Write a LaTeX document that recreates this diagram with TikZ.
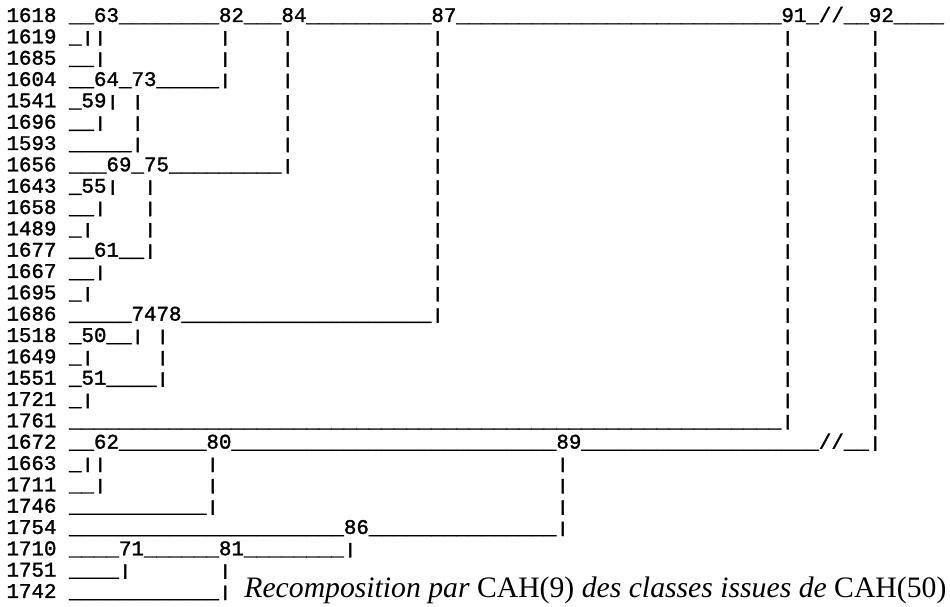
\documentclass[tikz,border=0pt]{standalone}
\usepackage{fontspec}
\usepackage{graphicx}
\usetikzlibrary{positioning}

\newfontfamily\dendfont{Liberation Mono}[FakeBold=1.5]
\newfontfamily\capfont{Liberation Serif}

\newlength\colw
\setlength\colw{12.5pt}
\newcommand\us[1]{\foreach\k in {1,...,#1}{\_}}
\newcommand\gp[1]{\hspace*{#1\colw}}
\newcommand\vb{\raisebox{1pt}{\scalebox{1}[0.74]{|}}}

\begin{document}
\begin{tikzpicture}[
    x=1pt, y=-1pt,
    dendrow/.style={anchor=base west, inner sep=0pt, font=\dendfont\fontsize{20.83}{21.33}\selectfont},
    nextrow/.style={below=21.33pt of #1.base west, anchor=base west},
    captext/.style={inner sep=0pt, font=\capfont\itshape\fontsize{29.7}{30}\selectfont}
]
    \useasboundingbox (0,0) rectangle (950,607);

    % First group (up to 92)
    \node[dendrow] (r1618) at (6.3,22) {1618\gp{1}\us{2}63\us{8}82\us{3}84\us{10}87\us{26}91\us{1}//\us{2}92\us{4}};
    \node[dendrow, nextrow=r1618] (r1619) {1619\gp{1}\us{1}\vb\vb\gp{9}\vb\gp{4}\vb\gp{11}\vb\gp{27}\vb\gp{6}\vb};
    \node[dendrow, nextrow=r1619] (r1685) {1685\gp{1}\us{2}\vb\gp{9}\vb\gp{4}\vb\gp{11}\vb\gp{27}\vb\gp{6}\vb};
    \node[dendrow, nextrow=r1685] (r1604) {1604\gp{1}\us{2}64\us{1}73\us{5}\vb\gp{4}\vb\gp{11}\vb\gp{27}\vb\gp{6}\vb};
    \node[dendrow, nextrow=r1604] (r1541) {1541\gp{1}\us{1}59\vb\gp{1}\vb\gp{11}\vb\gp{11}\vb\gp{27}\vb\gp{6}\vb};
    \node[dendrow, nextrow=r1541] (r1696) {1696\gp{1}\us{2}\vb\gp{2}\vb\gp{11}\vb\gp{11}\vb\gp{27}\vb\gp{6}\vb};
    \node[dendrow, nextrow=r1696] (r1593) {1593\gp{1}\us{5}\vb\gp{11}\vb\gp{11}\vb\gp{27}\vb\gp{6}\vb};
    \node[dendrow, nextrow=r1593] (r1656) {1656\gp{1}\us{3}69\us{1}75\us{9}\vb\gp{11}\vb\gp{27}\vb\gp{6}\vb};
    \node[dendrow, nextrow=r1656] (r1643) {1643\gp{1}\us{1}55\vb\gp{2}\vb\gp{22}\vb\gp{27}\vb\gp{6}\vb};
    \node[dendrow, nextrow=r1643] (r1658) {1658\gp{1}\us{2}\vb\gp{3}\vb\gp{22}\vb\gp{27}\vb\gp{6}\vb};
    \node[dendrow, nextrow=r1658] (r1489) {1489\gp{1}\us{1}\vb\gp{4}\vb\gp{22}\vb\gp{27}\vb\gp{6}\vb};
    \node[dendrow, nextrow=r1489] (r1677) {1677\gp{1}\us{2}61\us{2}\vb\gp{22}\vb\gp{27}\vb\gp{6}\vb};
    \node[dendrow, nextrow=r1677] (r1667) {1667\gp{1}\us{2}\vb\gp{26}\vb\gp{27}\vb\gp{6}\vb};
    \node[dendrow, nextrow=r1667] (r1695) {1695\gp{1}\us{1}\vb\gp{27}\vb\gp{27}\vb\gp{6}\vb};
    \node[dendrow, nextrow=r1695] (r1686) {1686\gp{1}\us{5}7478\us{20}\vb\gp{27}\vb\gp{6}\vb};
    \node[dendrow, nextrow=r1686] (r1518) {1518\gp{1}\us{1}50\us{2}\vb\gp{1}\vb\gp{49}\vb\gp{6}\vb};
    \node[dendrow, nextrow=r1518] (r1649) {1649\gp{1}\us{1}\vb\gp{5}\vb\gp{49}\vb\gp{6}\vb};
    \node[dendrow, nextrow=r1649] (r1551) {1551\gp{1}\us{1}51\us{4}\vb\gp{49}\vb\gp{6}\vb};
    \node[dendrow, nextrow=r1551] (r1721) {1721\gp{1}\us{1}\vb\gp{55}\vb\gp{6}\vb};
    \node[dendrow, nextrow=r1721] (r1761) {1761\gp{1}\us{57}\vb\gp{6}\vb};

    % Second group (joins at 92)
    \node[dendrow, nextrow=r1761] (r1672) {1672\gp{1}\us{2}62\us{7}80\us{26}89\us{19}//\us{2}\vb};
    \node[dendrow, nextrow=r1672] (r1663) {1663\gp{1}\us{1}\vb\vb\gp{8}\vb\gp{27}\vb};
    \node[dendrow, nextrow=r1663] (r1711) {1711\gp{1}\us{2}\vb\gp{8}\vb\gp{27}\vb};
    \node[dendrow, nextrow=r1711] (r1746) {1746\gp{1}\us{11}\vb\gp{27}\vb};
    \node[dendrow, nextrow=r1746] (r1754) {1754\gp{1}\us{22}86\us{15}\vb};
    \node[dendrow, nextrow=r1754] (r1710) {1710\gp{1}\us{4}71\us{6}81\us{8}\vb};
    \node[dendrow, nextrow=r1710] (r1751) {1751\gp{1}\us{4}\vb\gp{7}\vb};
    \node[dendrow, nextrow=r1751] (r1742) {1742\gp{1}\us{12}\vb};

    % Caption
    \node[captext, right=12.5pt of r1742.base east, anchor=base west] (caption)
        {Recomposition par {\upshape CAH(9)} des classes issues de {\upshape CAH(50)}};

\end{tikzpicture}
\end{document}
